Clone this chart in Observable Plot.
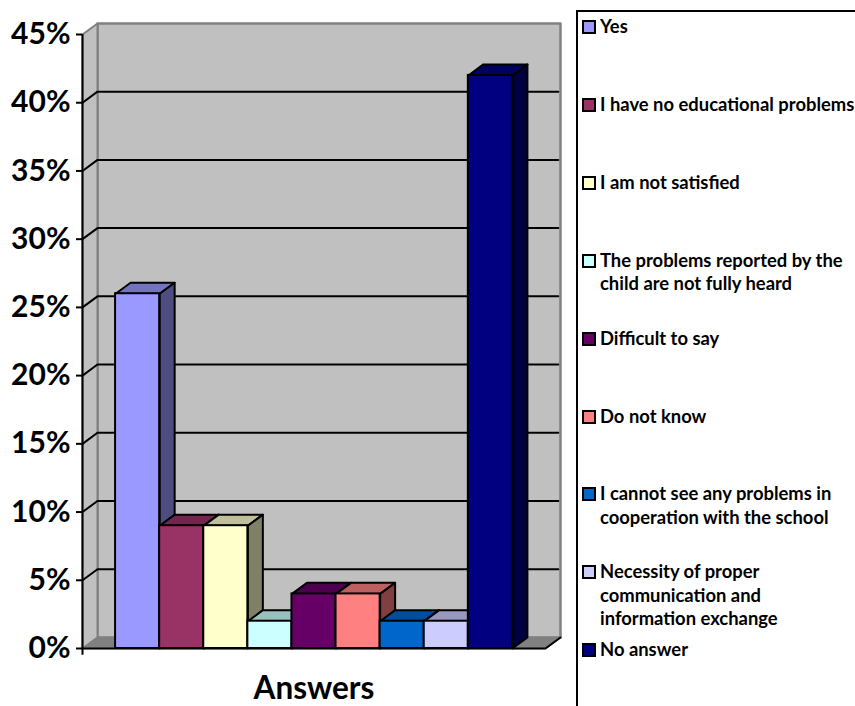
<!DOCTYPE html>
<html>
<head>
<meta charset="utf-8">
<script src="https://cdn.jsdelivr.net/npm/d3@7"></script>
<script src="https://cdn.jsdelivr.net/npm/@observablehq/plot@0.6"></script>
<style>
  html, body { margin: 0; padding: 0; background: #fff; overflow: hidden; }
  #chart { position: relative; width: 855px; height: 706px; overflow: hidden; font-family: Lato, sans-serif; }
  #chart svg { position: absolute; left: 0; top: 0; }
  #legend { position: absolute; left: 576px; top: 10px; width: 300px; height: 720px; border-left: 2px solid #000; border-top: 2px solid #000; }
  .entry { position: absolute; left: 4px; color: #000; font-weight: 700; font-size: 18.4px; line-height: 23.6px; white-space: pre; padding-left: 18px; }
  .swatch { position: absolute; left: 0; top: 5px; width: 10px; height: 10px; border: 2px solid #000; }
</style>
</head>
<body>
<div id="chart"></div>
<script>
// Survey answers and their shares, in percent
const answers = [
  "Yes",
  "I have no educational problems",
  "I am not satisfied",
  "The problems reported by the\nchild are not fully heard",
  "Difficult to say",
  "Do not know",
  "I cannot see any problems in\ncooperation with the school",
  "Necessity of proper\ncommunication and\ninformation exchange",
  "No answer"
];
const shares = [26, 9, 9, 2, 4, 4, 2, 2, 42];
const colors = ["#9999ff", "#993366", "#ffffcc", "#ccffff", "#660066", "#ff8080", "#0066cc", "#ccccff", "#000080"];
const yTicks = [0, 5, 10, 15, 20, 25, 30, 35, 40, 45];

// Extent of the floor along x (one unit is one bar) and the 3D depth vector
const floorLeft = -0.75, floorRight = 9.75, depthX = 0.34, depthY = 0.81;
const yTop = 45;

const shade = (color, k) => {
  const c = d3.rgb(color);
  return d3.rgb(c.r * k, c.g * k, c.b * k).formatHex();
};

// A filled, outlined polygon in data coordinates
const face = (points, fill, stroke = "#000", strokeWidth = 2) =>
  Plot.line([...points, points[0]], {
    x: d => d[0], y: d => d[1], fill, stroke, strokeWidth,
    strokeLinejoin: "round", strokeLinecap: "round"
  });

const wall = "#c0c0c0", edge = "#808080";

const marks = [
  // Back wall, left wall and floor
  face([[floorLeft + depthX, depthY], [floorRight + depthX, depthY], [floorRight + depthX, yTop + depthY], [floorLeft + depthX, yTop + depthY]], wall, edge, 2.5),
  face([[floorLeft, 0], [floorLeft + depthX, depthY], [floorLeft + depthX, yTop + depthY], [floorLeft, yTop]], wall, edge, 2),
  // Grid lines across both walls
  ...yTicks.filter(t => t > 0 && t < yTop).map(t =>
    Plot.line([[floorLeft, t], [floorLeft + depthX, t + depthY], [floorRight + depthX - 0.05, t + depthY]], {
      x: d => d[0], y: d => d[1], stroke: "#000", strokeWidth: 2
    })
  ),
  face([[floorLeft, 0], [floorLeft + depthX, depthY], [floorRight + depthX, depthY], [floorRight, 0]], edge, edge, 1.5),
  Plot.line([[floorLeft, 0], [floorRight, 0], [floorRight + depthX, depthY]], {
    x: d => d[0], y: d => d[1], stroke: "#000", strokeWidth: 2
  }),
  // Bars, painted left to right so each one covers its neighbour's side
  ...shares.flatMap((v, i) => [
    face([[i, v], [i + 1, v], [i + 1 + depthX, v + depthY], [i + depthX, v + depthY]], shade(colors[i], 0.75)),
    face([[i + 1, 0], [i + 1 + depthX, depthY], [i + 1 + depthX, v + depthY], [i + 1, v]], shade(colors[i], 0.5)),
    Plot.rect([v], { x1: i, x2: i + 1, y1: 0, y2: d => d, fill: colors[i], stroke: "#000", strokeWidth: 2 })
  ]),
  // Value axis
  Plot.ruleX([floorLeft], { y1: -0.5, y2: yTop, stroke: "#000", strokeWidth: 2 }),
  Plot.axisY({
    anchor: "left", ticks: yTicks, tickFormat: d => d + "%", label: null,
    tickSize: 6, tickPadding: 6, fontSize: 30, fontWeight: 700, fill: "#000", stroke: "#000", strokeWidth: 2
  }),
  // Category axis title
  Plot.text(["Answers"], {
    x: [4.5], y: [0], dy: 40, text: d => d, fontSize: 31.5, fontWeight: 700, fill: "#000", lineAnchor: "middle"
  })
];

const plot = Plot.plot({
  width: 855, height: 706,
  marginLeft: 82, marginRight: 310, marginTop: 34, marginBottom: 58,
  style: { background: "transparent", fontFamily: "Lato, sans-serif", overflow: "visible" },
  x: { domain: [floorLeft, floorRight], axis: null },
  y: { domain: [0, yTop], axis: null },
  marks
});

const chart = document.getElementById("chart");
chart.appendChild(plot);

// Legend column, one entry per answer
const legend = document.createElement("div");
legend.id = "legend";
const step = 77.9, firstTop = 3;
answers.forEach((label, i) => {
  const entry = document.createElement("div");
  entry.className = "entry";
  entry.style.top = (firstTop + step * i) + "px";
  entry.textContent = label;
  const swatch = document.createElement("span");
  swatch.className = "swatch";
  swatch.style.background = colors[i];
  entry.appendChild(swatch);
  legend.appendChild(entry);
});
chart.appendChild(legend);
</script>
</body>
</html>
